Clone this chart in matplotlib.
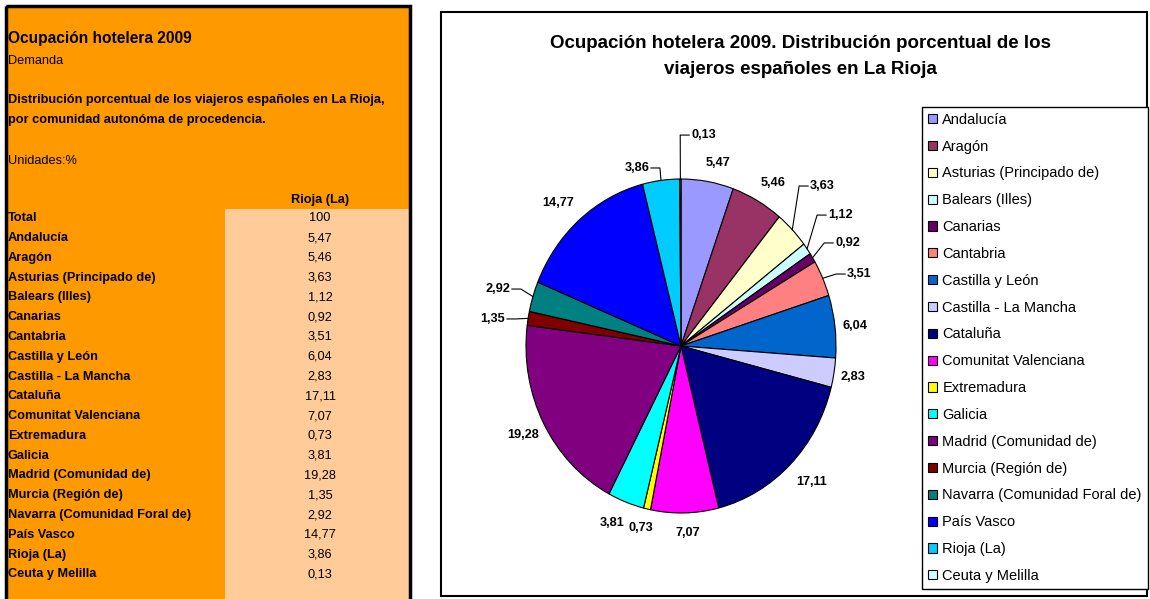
import matplotlib.pyplot as plt
import numpy as np
from matplotlib.patches import Rectangle

plt.rcParams['font.family'] = ['Liberation Sans', 'DejaVu Sans']

# Data: distribution of Spanish travellers in La Rioja (2009), %
regions = ['Andalucía', 'Aragón', 'Asturias (Principado de)', 'Balears (Illes)', 'Canarias',
           'Cantabria', 'Castilla y León', 'Castilla - La Mancha', 'Cataluña',
           'Comunitat Valenciana', 'Extremadura', 'Galicia', 'Madrid (Comunidad de)',
           'Murcia (Región de)', 'Navarra (Comunidad Foral de)', 'País Vasco', 'Rioja (La)',
           'Ceuta y Melilla']
shares = [5.47, 5.46, 3.63, 1.12, 0.92, 3.51, 6.04, 2.83, 17.11, 7.07, 0.73, 3.81, 19.28,
          1.35, 2.92, 14.77, 3.86, 0.13]
total = 100

colors = ['#9999FF', '#993366', '#FFFFCC', '#CCFFFF', '#660066', '#FF8080', '#0066CC',
          '#CCCCFF', '#000080', '#FF00FF', '#FFFF00', '#00FFFF', '#800080', '#800000',
          '#008080', '#0000FF', '#00CCFF', '#CCFFFF']

# label layout in pie units (x, y, alignment, leader line?)
label_layout = [
    (0.239, 1.096, 'center', False), (0.594, 0.976, 'center', False),
    (0.832, 0.958, 'left', True), (0.948, 0.784, 'left', True),
    (0.994, 0.617, 'left', True), (1.071, 0.431, 'left', True),
    (1.123, 0.120, 'center', False), (1.110, -0.186, 'center', False),
    (0.845, -0.814, 'center', False), (0.045, -1.120, 'center', False),
    (-0.258, -1.090, 'center', False), (-0.445, -1.060, 'center', False),
    (-1.019, -0.533, 'center', False), (-1.135, 0.162, 'right', True),
    (-1.103, 0.341, 'right', True), (-0.794, 0.856, 'center', False),
    (-0.206, 1.066, 'right', True), (0.065, 1.263, 'left', True),
]


def fmt(v):
    return f'{v:.2f}'.replace('.', ',')


W, H = 1150, 599
fig = plt.figure(figsize=(W / 100, H / 100), dpi=100)
bg = fig.add_axes([0, 0, 1, 1])
bg.set_xlim(0, W)
bg.set_ylim(H, 0)
bg.axis('off')

# left panel (spreadsheet block)
bg.add_patch(Rectangle((6, 6), 404, 700, facecolor='#FF9900', edgecolor='none'))
bg.add_patch(Rectangle((225, 208.5), 184, 500, facecolor='#FFCC99', edgecolor='none'))
bg.add_patch(Rectangle((6, 6), 404, 700, facecolor='none', edgecolor='black', lw=2.5))

body = 9.2
bg.text(8, 39, 'Ocupación hotelera 2009', fontsize=11.2, fontweight='bold', va='center')
bg.text(8, 61.5, 'Demanda', fontsize=body, va='center')
bg.text(8, 100.5, 'Distribución porcentual de los viajeros españoles en La Rioja,',
        fontsize=body, fontweight='bold', va='center')
bg.text(8, 119.5, 'por comunidad autonóma de procedencia.', fontsize=body,
        fontweight='bold', va='center')
bg.text(8, 160.5, 'Unidades:%', fontsize=body, va='center')
bg.text(320, 199.5, 'Rioja (La)', fontsize=body, fontweight='bold', ha='center', va='center')

row_names = ['Total'] + regions
row_vals = [str(total)] + [fmt(v) for v in shares]
for i, (name, val) in enumerate(zip(row_names, row_vals)):
    y = 218.3 + i * 19.78
    bg.text(8, y, name, fontsize=body, fontweight='bold', va='center')
    bg.text(320, y, val, fontsize=body, ha='center', va='center')

# right panel frame
bg.add_patch(Rectangle((441, 12), 706, 584, facecolor='white', edgecolor='black', lw=1.5))
bg.text(800, 44, 'Ocupación hotelera 2009. Distribución porcentual de los',
        fontsize=13.5, fontweight='bold', ha='center', va='center')
bg.text(800, 70, 'viajeros españoles en La Rioja',
        fontsize=13.5, fontweight='bold', ha='center', va='center')

# pie
ax = fig.add_axes([433 / W, 1 - 579.8 / H, 496 / W, 467.6 / H])
wedges, _ = ax.pie(shares, colors=colors, startangle=90, counterclock=False,
                   wedgeprops=dict(edgecolor='black', linewidth=0.8))
ax.set_aspect('auto')
ax.set_xlim(-1.6, 1.6)
ax.set_ylim(-1.4, 1.4)
ax.axis('off')

for w, v, (lx, ly, ha, leader) in zip(wedges, shares, label_layout):
    mid = np.deg2rad((w.theta1 + w.theta2) / 2)
    ex, ey = np.cos(mid), np.sin(mid)
    ax.text(lx, ly, fmt(v), fontsize=9.2, fontweight='bold', ha=ha, va='center')
    if leader:
        s = 1 if ha == 'left' else -1
        ax.plot([ex, lx - s * 0.07, lx - s * 0.012], [ey, ly, ly], color='black', lw=0.8)

ax.legend(wedges, regions, loc='upper left', bbox_to_anchor=(922, 107),
          bbox_transform=bg.transData, fontsize=10.5, frameon=True, fancybox=False,
          edgecolor='black', framealpha=1, borderpad=0.4, borderaxespad=0,
          handlelength=0.6, handleheight=0.6, handletextpad=0.4, labelspacing=0.88)

fig.savefig('out.png', dpi=100)
